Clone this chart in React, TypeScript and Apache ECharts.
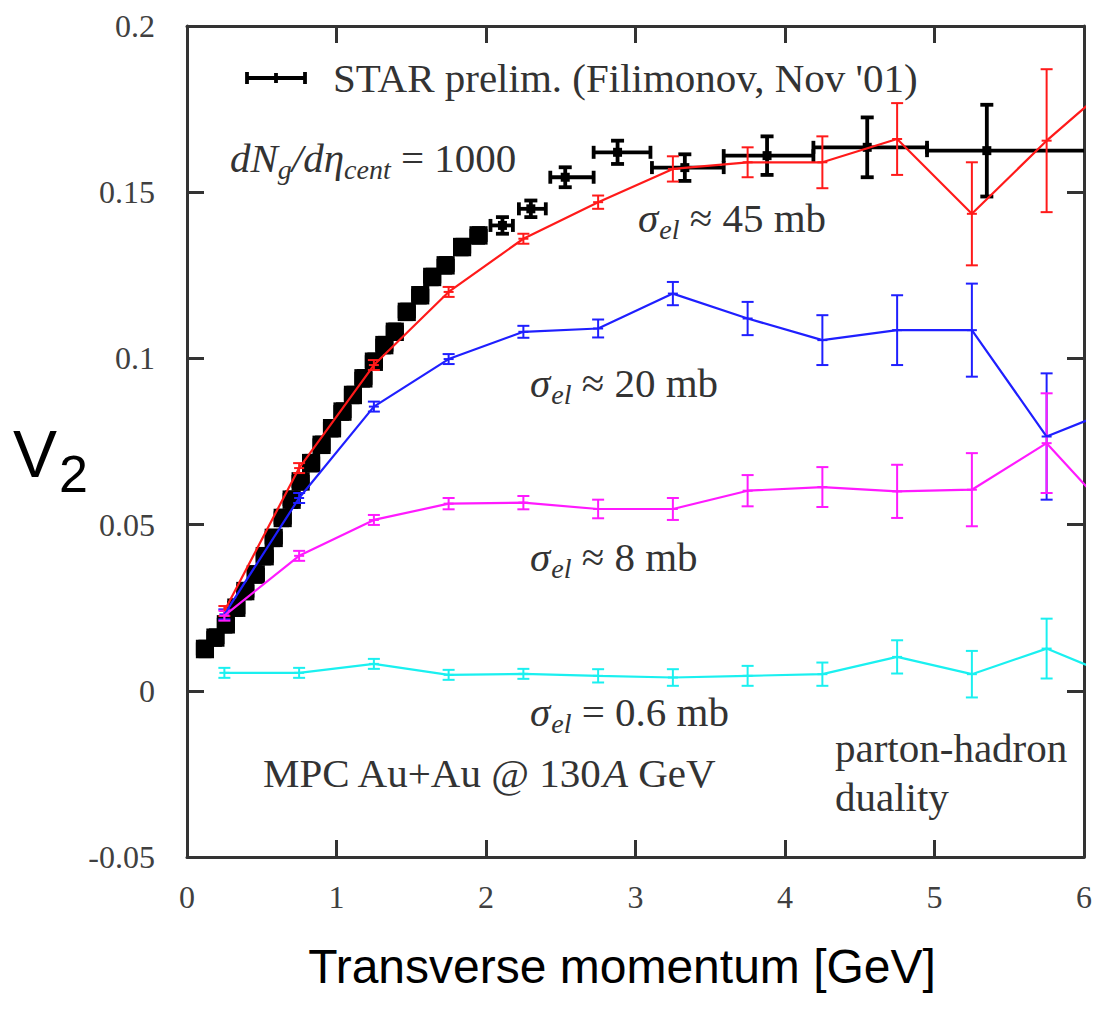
import React, { useEffect, useRef } from "react";
import * as echarts from "echarts";

// pT bins of the transport runs (the last bin lies past the axis end, so the lines run off the frame)
const modelPt = [0.25, 0.75, 1.25, 1.75, 2.25, 2.75, 3.25, 3.75, 4.25, 4.75, 5.25, 5.75, 6.25];

const v2Sigma45 = [0.024, 0.067, 0.098, 0.12, 0.136, 0.147, 0.157, 0.159, 0.159, 0.166, 0.1435, 0.1655, 0.185];
const err45 = [0.0015, 0.0015, 0.0015, 0.0015, 0.0015, 0.002, 0.0038, 0.0045, 0.0078, 0.0108, 0.0155, 0.0215, 0.025];

const v2Sigma20 = [0.023, 0.058, 0.0855, 0.0998, 0.108, 0.109, 0.1195, 0.112, 0.1055, 0.1085, 0.1085, 0.0765, 0.0855];
const err20 = [0.0015, 0.0015, 0.0015, 0.0015, 0.0018, 0.0027, 0.0035, 0.005, 0.0075, 0.0105, 0.014, 0.019, 0.022];

const v2Sigma8 = [0.0226, 0.0406, 0.0514, 0.0563, 0.0566, 0.0547, 0.0547, 0.0602, 0.0613, 0.06, 0.0605, 0.0745, 0.05];
const err8 = [0.0015, 0.0015, 0.0015, 0.0017, 0.002, 0.0028, 0.0033, 0.0047, 0.006, 0.008, 0.011, 0.015, 0.018];

const v2Sigma06 = [0.0054, 0.0054, 0.0081, 0.0048, 0.0051, 0.0045, 0.004, 0.0045, 0.005, 0.0102, 0.005, 0.0127, 0.0035];
const err06 = [0.0015, 0.0015, 0.0015, 0.0015, 0.0015, 0.002, 0.0025, 0.003, 0.0035, 0.005, 0.007, 0.009, 0.01];

// STAR preliminary charged-hadron v2
const starPt = [
  0.12, 0.19, 0.26, 0.33, 0.39, 0.46, 0.52, 0.58, 0.64, 0.7, 0.76, 0.83, 0.9, 0.97, 1.04, 1.11, 1.18,
  1.25, 1.32, 1.39, 1.47, 1.56, 1.64, 1.73, 1.84, 1.95, 2.11, 2.3, 2.53, 2.88, 3.33, 3.88, 4.55, 5.35,
];
const starV2 = [
  0.0126, 0.016, 0.02, 0.025, 0.03, 0.035, 0.0405, 0.046, 0.052, 0.0575, 0.063, 0.0685, 0.074, 0.079,
  0.084, 0.089, 0.094, 0.099, 0.104, 0.108, 0.114, 0.119, 0.1245, 0.128, 0.1335, 0.137, 0.14, 0.145,
  0.1545, 0.162, 0.1574, 0.161, 0.1635, 0.1625,
];
const starErr = [
  0.0022, 0.0022, 0.0022, 0.0022, 0.0022, 0.0022, 0.0022, 0.0022, 0.0022, 0.0022, 0.0022, 0.0022,
  0.0022, 0.0022, 0.0022, 0.0022, 0.0022, 0.0022, 0.0022, 0.0022, 0.0022, 0.0022, 0.0022, 0.0022,
  0.0022, 0.0022, 0.0025, 0.0025, 0.003, 0.0035, 0.004, 0.0058, 0.009, 0.0138,
];
const starPtLow = [
  0.072, 0.142, 0.212, 0.282, 0.342, 0.412, 0.472, 0.532, 0.592, 0.652, 0.712, 0.782, 0.852, 0.922,
  0.992, 1.062, 1.132, 1.202, 1.272, 1.342, 1.422, 1.512, 1.592, 1.682, 1.792, 1.902, 2.03, 2.22, 2.43,
  2.72, 3.11, 3.59, 4.19, 4.95,
];
const starPtHigh = [
  0.168, 0.238, 0.308, 0.378, 0.438, 0.508, 0.568, 0.628, 0.688, 0.748, 0.808, 0.878, 0.948, 1.018,
  1.088, 1.158, 1.228, 1.298, 1.368, 1.438, 1.518, 1.608, 1.688, 1.778, 1.888, 1.998, 2.18, 2.4, 2.72,
  3.1, 3.59, 4.19, 4.95, 6.3,
];

const xTicks = { min: 0, max: 6, step: 1 };
const yTicks = { min: -0.05, max: 0.2, step: 0.05 };

const ink = "#333333";
const axisInk = "#333333";
const serif = "'Liberation Serif', 'Times New Roman', serif";
const sans = "'Liberation Sans', Arial, sans-serif";

const RED = "#ff1a1a";
const BLUE = "#1f1fff";
const MAGENTA = "#ff1aff";
const CYAN = "#1af0f0";

type Api = { value: (d: number) => number; coord: (p: number[]) => number[] };

// vertical error bar with caps plus a small "+" at the point
function modelBars(color: string) {
  return (_params: unknown, api: Api) => {
    const x = api.value(0);
    const y = api.value(1);
    const e = api.value(2);
    const c = api.coord([x, y]);
    const top = api.coord([x, y + e]);
    const bot = api.coord([x, y - e]);
    const cap = 6;
    const style = { stroke: color, lineWidth: 2, fill: "none" };
    return {
      type: "group",
      children: [
        { type: "line", shape: { x1: top[0], y1: top[1], x2: bot[0], y2: bot[1] }, style },
        { type: "line", shape: { x1: top[0] - cap, y1: top[1], x2: top[0] + cap, y2: top[1] }, style },
        { type: "line", shape: { x1: bot[0] - cap, y1: bot[1], x2: bot[0] + cap, y2: bot[1] }, style },
        { type: "line", shape: { x1: c[0] - 5, y1: c[1], x2: c[0] + 5, y2: c[1] }, style },
      ],
    };
  };
}

// x and y error bars; bars too short to separate merge into a solid block
function starBars(_params: unknown, api: Api) {
  const x = api.value(0);
  const y = api.value(1);
  const e = api.value(2);
  const xl = api.value(3);
  const xh = api.value(4);
  const c = api.coord([x, y]);
  const l = api.coord([xl, y]);
  const h = api.coord([xh, y]);
  const top = api.coord([x, y + e]);
  const bot = api.coord([x, y - e]);
  const cap = 6.5;
  const lw = 3.8;
  const style = { stroke: "#000", lineWidth: lw, fill: "none" };
  const small = h[0] - l[0] < 18 && bot[1] - top[1] < 18;
  const block = small
    ? {
        type: "rect",
        shape: {
          x: Math.min(l[0], c[0] - cap) - lw / 2,
          y: top[1] - lw / 2,
          width: Math.max(h[0] - l[0], 2 * cap) + lw,
          height: bot[1] - top[1] + lw,
        },
        style: { fill: "#000" },
      }
    : { type: "rect", shape: { x: c[0] - 4.5, y: c[1] - 4.5, width: 9, height: 9 }, style: { fill: "#000" } };
  return {
    type: "group",
    children: [
      block,
      { type: "line", shape: { x1: l[0], y1: c[1], x2: h[0], y2: c[1] }, style },
      { type: "line", shape: { x1: l[0], y1: c[1] - cap, x2: l[0], y2: c[1] + cap }, style },
      { type: "line", shape: { x1: h[0], y1: c[1] - cap, x2: h[0], y2: c[1] + cap }, style },
      { type: "line", shape: { x1: c[0], y1: top[1], x2: c[0], y2: bot[1] }, style },
      { type: "line", shape: { x1: c[0] - cap, y1: top[1], x2: c[0] + cap, y2: top[1] }, style },
      { type: "line", shape: { x1: c[0] - cap, y1: bot[1], x2: c[0] + cap, y2: bot[1] }, style },
    ],
  };
}

function modelSeries(name: string, values: number[], errs: number[], color: string) {
  const pts = modelPt.map((x, i) => [x, values[i], errs[i]]);
  return [
    {
      name,
      type: "line",
      data: pts.map((p) => [p[0], p[1]]),
      symbol: "none",
      clip: true,
      lineStyle: { color, width: 2.2 },
      z: 3,
    },
    {
      name,
      type: "custom",
      data: pts,
      encode: { x: 0, y: 1 },
      renderItem: modelBars(color),
      clip: true,
      z: 3,
    },
  ];
}

const textFont = 41;
const subFont = 28;

const sigmaRich = {
  s: { fontFamily: serif, fontStyle: "italic", fontSize: textFont, fill: ink },
  sub: { fontFamily: serif, fontStyle: "italic", fontSize: subFont, fill: ink, padding: [22, 0, 0, 1] },
  t: { fontFamily: serif, fontSize: textFont, fill: ink },
};

function note(x: number, y: number, text: string, rich?: object) {
  return {
    type: "text",
    x,
    y,
    style: {
      text,
      fontFamily: serif,
      fontSize: textFont,
      fill: ink,
      verticalAlign: "middle",
      align: "left",
      rich,
    },
    z: 10,
  };
}

function buildOption() {
  const frameAxis = {
    type: "value",
    axisLine: { show: true, onZero: false, lineStyle: { color: axisInk, width: 3 } },
    axisTick: { show: true, inside: true, length: 17, lineStyle: { color: axisInk, width: 3 } },
    splitLine: { show: false },
  };
  const tickLabel = { fontFamily: serif, fontSize: 32, color: "#404040" };
  const fmt = (v: number) => String(+v.toFixed(2));

  const star = starPt.map((x, i) => [x, starV2[i], starErr[i], starPtLow[i], starPtHigh[i]]);

  return {
    animation: false,
    backgroundColor: "#ffffff",
    grid: { left: 187, right: 5, top: 26, bottom: 153 },
    xAxis: [
      {
        ...frameAxis,
        position: "bottom",
        min: xTicks.min,
        max: xTicks.max,
        interval: xTicks.step,
        axisLabel: { ...tickLabel, margin: 24, formatter: fmt },
      },
      {
        ...frameAxis,
        position: "top",
        min: xTicks.min,
        max: xTicks.max,
        interval: xTicks.step,
        axisLabel: { show: false },
      },
    ],
    yAxis: [
      {
        ...frameAxis,
        position: "left",
        min: yTicks.min,
        max: yTicks.max,
        interval: yTicks.step,
        axisLabel: { ...tickLabel, margin: 32, formatter: fmt },
      },
      {
        ...frameAxis,
        position: "right",
        min: yTicks.min,
        max: yTicks.max,
        interval: yTicks.step,
        axisLabel: { show: false },
      },
    ],
    series: [
      {
        name: "STAR prelim. (Filimonov, Nov '01)",
        type: "custom",
        data: star,
        encode: { x: 0, y: 1 },
        renderItem: starBars,
        clip: true,
        z: 2,
      },
      ...modelSeries("σel = 0.6 mb", v2Sigma06, err06, CYAN),
      ...modelSeries("σel ≈ 20 mb", v2Sigma20, err20, BLUE),
      ...modelSeries("σel ≈ 45 mb", v2Sigma45, err45, RED),
      ...modelSeries("σel ≈ 8 mb", v2Sigma8, err8, MAGENTA),
    ],
    graphic: [
      // key for the data points
      {
        type: "group",
        x: 247,
        y: 78,
        z: 10,
        children: [
          { type: "line", shape: { x1: 0, y1: 0, x2: 58, y2: 0 }, style: { stroke: "#000", lineWidth: 3.8 } },
          { type: "line", shape: { x1: 0, y1: -6, x2: 0, y2: 6 }, style: { stroke: "#000", lineWidth: 3.8 } },
          { type: "line", shape: { x1: 58, y1: -6, x2: 58, y2: 6 }, style: { stroke: "#000", lineWidth: 3.8 } },
          { type: "line", shape: { x1: 29, y1: -5, x2: 29, y2: 5 }, style: { stroke: "#000", lineWidth: 3.8 } },
        ],
      },
      note(333, 78, "STAR prelim. (Filimonov, Nov '01)"),
      note(230, 158, "{i|dN}{sub|g}{i|/dη}{sub|cent}{t| = 1000}", {
        i: { fontFamily: serif, fontStyle: "italic", fontSize: textFont, fill: ink },
        sub: { fontFamily: serif, fontStyle: "italic", fontSize: subFont, fill: ink, padding: [22, 0, 0, 0] },
        t: { fontFamily: serif, fontSize: textFont, fill: ink },
      }),
      note(638, 218, "{s|σ}{sub|el}{t| ≈ 45 mb}", sigmaRich),
      note(530, 383, "{s|σ}{sub|el}{t| ≈ 20 mb}", sigmaRich),
      note(530, 557, "{s|σ}{sub|el}{t| ≈ 8 mb}", sigmaRich),
      note(530, 712, "{s|σ}{sub|el}{t| = 0.6 mb}", sigmaRich),
      note(263, 773, "{t|MPC Au+Au @ 130}{i|A}{t| GeV}", {
        t: { fontFamily: serif, fontSize: textFont, fill: ink },
        i: { fontFamily: serif, fontStyle: "italic", fontSize: textFont, fill: ink },
      }),
      note(835, 748, "parton-hadron"),
      note(835, 797, "duality"),
      // axis titles
      {
        type: "text",
        x: 13,
        y: 454,
        z: 10,
        style: {
          text: "{v|V}{sub|2}",
          verticalAlign: "middle",
          rich: {
            v: { fontFamily: sans, fontSize: 66, fill: "#000" },
            sub: { fontFamily: sans, fontSize: 52, fill: "#000", padding: [40, 0, 0, 2] },
          },
        },
      },
      {
        type: "text",
        x: 622,
        y: 966,
        z: 10,
        style: {
          text: "Transverse momentum [GeV]",
          fontFamily: sans,
          fontSize: 48,
          fill: "#000",
          align: "center",
          verticalAlign: "middle",
        },
      },
    ],
  };
}

export default function App() {
  const ref = useRef<HTMLDivElement>(null);
  useEffect(() => {
    if (!ref.current) return;
    const chart = echarts.init(ref.current, null, { renderer: "svg" });
    chart.setOption(buildOption() as any);
    return () => chart.dispose();
  }, []);
  return (
    <div
      ref={ref}
      style={{ position: "absolute", left: 0, top: 0, width: 1095, height: 1010, background: "#fff" }}
    />
  );
}
